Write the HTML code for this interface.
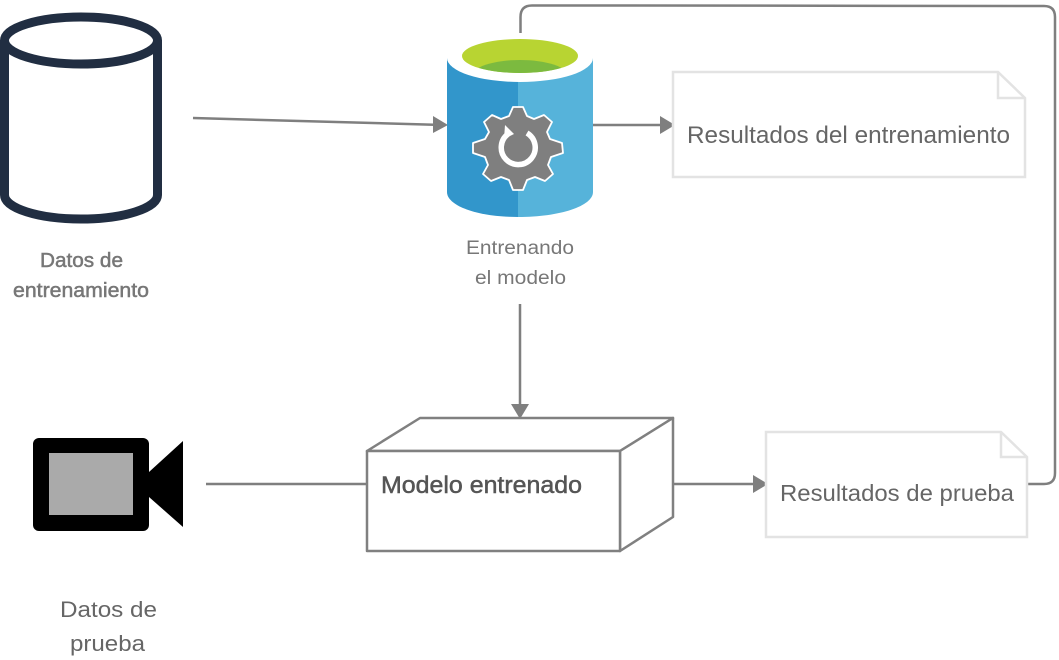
<!DOCTYPE html>
<html>
<head>
<meta charset="utf-8">
<style>
html,body{margin:0;padding:0;background:#fff;width:1059px;height:660px;overflow:hidden}
svg{display:block}
text{font-family:"Liberation Sans",sans-serif}
</style>
</head>
<body>
<svg width="1059" height="660" viewBox="0 0 1059 660" xmlns="http://www.w3.org/2000/svg">
<defs>
<clipPath id="gc"><ellipse cx="520" cy="56" rx="58" ry="17"/></clipPath>
</defs>

<!-- connectors -->
<g fill="none" stroke="#7f7f7f" stroke-width="2.5">
<path d="M193 118L434 124.7"/>
<path d="M593 125H662"/>
<path d="M520 304V405"/>
<path d="M206 484H367"/>
<path d="M673 484H755"/>
<path d="M1027 484H1044Q1055 484 1055 473V17Q1055 6 1044 6L630 5.5H532Q520.500 5.500 520.500 17V33"/>
</g>
<g fill="#7f7f7f">
<path d="M433 116L448 125L433 133Z"/>
<path d="M660 116L675 125L660 134Z"/>
<path d="M511 404L520 419L529 404Z"/>
<path d="M753 475L768 484L753 493Z"/>
</g>

<!-- left cylinder -->
<g fill="none" stroke="#212e42" stroke-width="9">
<ellipse cx="81" cy="40.500" rx="76.500" ry="23.500"/>
<path d="M4.500 40V195C4.500 208 38 219 81 219C124 219 157.500 208 157.500 195V40"/>
</g>

<!-- blue cylinder -->
<path d="M447 58H518V217C478 217 447 206 447 192Z" fill="#3296cb"/>
<path d="M518 58H593V192C593 206 560 217 518 217Z" fill="#56b3da"/>
<ellipse cx="520" cy="58" rx="73" ry="24" fill="#fff"/>
<ellipse cx="520" cy="56" rx="58" ry="17" fill="#b8d432"/>
<ellipse cx="520" cy="76" rx="48" ry="16" fill="#7cba3f" clip-path="url(#gc)"/>

<!-- gear -->
<g transform="translate(518 148)">
<path fill="#7f7f7f" stroke="#fff" stroke-width="1.800" stroke-linejoin="round" d="M-5 -41H5L9 -32L16 -29L26 -33L34 -26L29 -16L32 -9L44 -5L45 5L33 9L30 17L35 26L27 33L17 29L9 32L5 42H-5L-9 32L-17 29L-27 33L-35 26L-30 17L-33 9L-45 5V-5L-33 -9L-29 -16L-34 -26L-26 -33L-17 -29L-9 -32Z"/>
<path fill="none" stroke="#fff" stroke-width="5.500" d="M9 -15A17 17 0 1 1 -10 -14"/>
<path fill="#fff" d="M-13 -23L-4 -14L-14 -9Z"/>
</g>

<!-- docs -->
<g fill="#fff" stroke="#e3e3e3" stroke-width="2.500">
<path d="M673 72H998L1025 98V177H673Z"/>
<path d="M998 72V98H1025" fill="none"/>
<path d="M766 432H1001L1027 457V537H766Z"/>
<path d="M1001 432V457H1027" fill="none"/>
</g>

<!-- box -->
<g fill="#fff" stroke="#808080" stroke-width="2.500" stroke-linejoin="round">
<path d="M367 451L420 418H673L620 451Z"/>
<path d="M620 451L673 418V517L620 551Z"/>
<rect x="367" y="451" width="253" height="100"/>
</g>

<!-- camera -->
<rect x="33" y="438" width="116" height="93" rx="6" fill="#000"/>
<rect x="49" y="453" width="84" height="62" fill="#aaa"/>
<path d="M149 472L183 441V527L149 497Z" fill="#000"/>

<!-- labels -->
<g fill="#666">
<text x="687" y="143" font-size="24" textLength="323" lengthAdjust="spacingAndGlyphs">Resultados del entrenamiento</text>
<text x="780" y="501" font-size="23" textLength="234" lengthAdjust="spacingAndGlyphs">Resultados de prueba</text>
<text x="466" y="254" font-size="19" textLength="108" lengthAdjust="spacingAndGlyphs" fill="#777">Entrenando</text>
<text x="475" y="284" font-size="19" textLength="91" lengthAdjust="spacingAndGlyphs" fill="#777">el modelo</text>
<text x="60" y="617" font-size="22" textLength="97" lengthAdjust="spacingAndGlyphs">Datos de</text>
<text x="70" y="651" font-size="22" textLength="75" lengthAdjust="spacingAndGlyphs">prueba</text>
<text x="381" y="493" font-size="24" textLength="201" lengthAdjust="spacingAndGlyphs" fill="#555" stroke="#555" stroke-width=".5">Modelo entrenado</text>
<text x="40" y="267" font-size="20" textLength="83" lengthAdjust="spacingAndGlyphs" fill="#777" stroke="#777" stroke-width=".5">Datos de</text>
<text x="13" y="297" font-size="20" textLength="136" lengthAdjust="spacingAndGlyphs" fill="#777" stroke="#777" stroke-width=".5">entrenamiento</text>
</g>
</svg>
</body>
</html>
